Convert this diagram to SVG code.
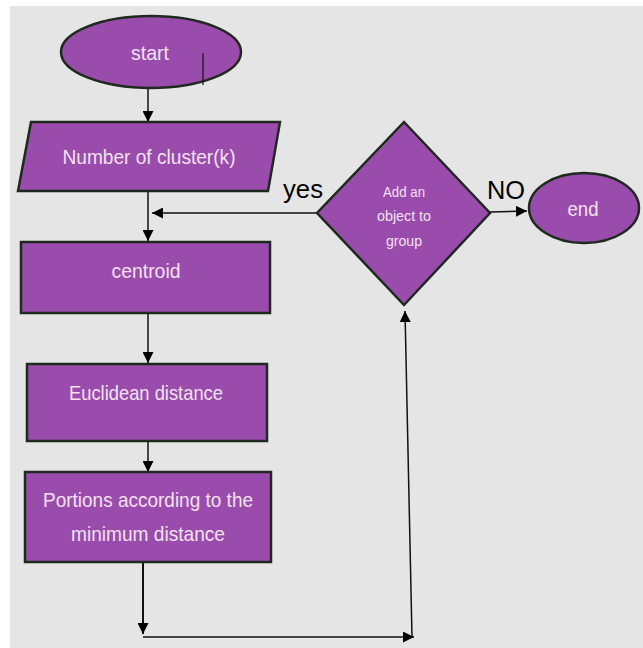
<svg xmlns="http://www.w3.org/2000/svg" width="643" height="648" viewBox="0 0 643 648">
<defs>
<style>
.shape{fill:#9a4cad;stroke:#1e2a1e;stroke-width:2.5}
.lbl{font-family:"Liberation Sans",Arial,sans-serif;fill:#f4e1f0;text-anchor:middle}
.big{font-size:21px}
.sm{font-size:14px}
.ed{font-family:"Liberation Sans",Arial,sans-serif;fill:#000;font-size:26px;text-anchor:middle}
.conn{stroke:#111;stroke-width:1.5;fill:none}
</style>
<marker id="ah2" viewBox="0 0 10 10" refX="10" refY="5" markerWidth="11" markerHeight="11" markerUnits="userSpaceOnUse" orient="auto"><path d="M0,0 L10,5 L0,10 z" fill="#000"/></marker>
</defs>
<rect x="0" y="0" width="643" height="648" fill="#ffffff"/>
<rect x="10" y="6" width="633" height="642" fill="#e5e5e5"/>

<g id="connectors">
<line class="conn" x1="148" y1="88" x2="148" y2="122" marker-end="url(#ah2)"/>
<line class="conn" x1="148" y1="191" x2="148" y2="241" marker-end="url(#ah2)"/>
<line class="conn" x1="317" y1="213" x2="152" y2="213" marker-end="url(#ah2)"/>
<line class="conn" x1="490" y1="212" x2="527" y2="211" marker-end="url(#ah2)"/>
<line class="conn" x1="148" y1="313" x2="148" y2="363" marker-end="url(#ah2)"/>
<line class="conn" x1="148" y1="441" x2="148" y2="472" marker-end="url(#ah2)"/>
<line class="conn" x1="143" y1="562" x2="143" y2="634" marker-end="url(#ah2)" style="stroke-width:2"/>
<line class="conn" x1="143" y1="637" x2="414" y2="637" marker-end="url(#ah2)"/>
<line class="conn" x1="412" y1="637" x2="405" y2="311" marker-end="url(#ah2)"/>
</g>

<g id="start">
<ellipse class="shape" cx="151" cy="52" rx="90" ry="36"/>
<text class="lbl big" x="150" y="60" textLength="38" lengthAdjust="spacingAndGlyphs">start</text>
<line x1="203" y1="53" x2="203" y2="85" stroke="#111" stroke-width="1.2"/>
</g>

<g id="input">
<polygon class="shape" points="31,122 280,122 268,191 18,191"/>
<text class="lbl big" x="149" y="164" textLength="173" lengthAdjust="spacingAndGlyphs">Number of cluster(k)</text>
</g>

<g id="centroid">
<rect class="shape" x="21" y="242" width="249" height="71"/>
<text class="lbl big" x="146" y="278" textLength="69" lengthAdjust="spacingAndGlyphs">centroid</text>
</g>

<g id="euclid">
<rect class="shape" x="27" y="364" width="240" height="77"/>
<text class="lbl big" x="146" y="400" textLength="154" lengthAdjust="spacingAndGlyphs">Euclidean distance</text>
</g>

<g id="portions">
<rect class="shape" x="25" y="472" width="246" height="90"/>
<text class="lbl big" x="148" y="507" textLength="210" lengthAdjust="spacingAndGlyphs">Portions according to the</text>
<text class="lbl big" x="148" y="541" textLength="154" lengthAdjust="spacingAndGlyphs">minimum distance</text>
</g>

<g id="decision">
<polygon class="shape" points="404,122 490,213 404,305 317,213"/>
<text class="lbl sm" x="404" y="197" textLength="42" lengthAdjust="spacingAndGlyphs">Add an</text>
<text class="lbl sm" x="404" y="221" textLength="54" lengthAdjust="spacingAndGlyphs">object to</text>
<text class="lbl sm" x="404" y="246" textLength="36" lengthAdjust="spacingAndGlyphs">group</text>
</g>

<g id="end">
<ellipse class="shape" cx="584" cy="208" rx="55" ry="35"/>
<text class="lbl big" x="583" y="216" textLength="31" lengthAdjust="spacingAndGlyphs">end</text>
</g>

<g id="labels">
<text class="ed" x="303" y="198" textLength="40" lengthAdjust="spacingAndGlyphs">yes</text>
<text class="ed" x="506" y="199" textLength="38" lengthAdjust="spacingAndGlyphs">NO</text>
</g>
</svg>
